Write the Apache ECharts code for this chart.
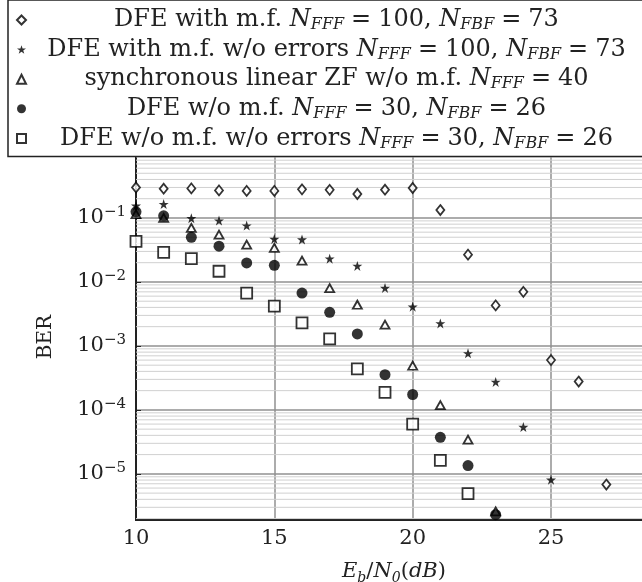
<!DOCTYPE html>
<html>
<head>
<meta charset="utf-8">
<script src="https://cdn.jsdelivr.net/npm/echarts@6/dist/echarts.min.js"></script>
<style>
  html, body { margin: 0; padding: 0; background: #fff; }
  #main { width: 642px; height: 582px; }
</style>
</head>
<body>
<div id="main"></div>
<script>
// Eb/N0 in dB, one entry per simulated point
var snr = [10, 11, 12, 13, 14, 15, 16, 17, 18, 19, 20, 21, 22, 23, 24, 25, 26, 27];

// BER values
var berDfeMf = [0.30, 0.287, 0.29, 0.27, 0.265, 0.265, 0.28, 0.275, 0.237, 0.277, 0.294, 0.133, 0.0267, 0.0043, 0.0070, 6.0e-4, 2.77e-4, 6.8e-6];
var berDfeMfNoErr = [0.155, 0.165, 0.099, 0.091, 0.076, 0.047, 0.046, 0.0231, 0.0178, 0.00805, 0.0041, 0.00225, 7.65e-4, 2.74e-4, 5.4e-5, 8.1e-6];
var berLinZf = [0.115, 0.10, 0.07, 0.0548, 0.0383, 0.034, 0.0215, 0.0080, 0.0044, 0.00215, 4.9e-4, 1.19e-4, 3.43e-5, 2.6e-6];
var berDfe = [0.125, 0.108, 0.0498, 0.0363, 0.0198, 0.0182, 0.0067, 0.00335, 0.00154, 3.55e-4, 1.74e-4, 3.73e-5, 1.35e-5, 2.3e-6];
var berDfeNoErr = [0.0431, 0.029, 0.0231, 0.0147, 0.0067, 0.0042, 0.0023, 0.00129, 4.37e-4, 1.88e-4, 6.0e-5, 1.63e-5, 4.9e-6];

var seriesNames = [
  "DFE with m.f. NFFF = 100, NFBF = 73",
  "DFE with m.f. w/o errors NFFF = 100, NFBF = 73",
  "synchronous linear ZF w/o m.f. NFFF = 40",
  "DFE w/o m.f. NFFF = 30, NFBF = 26",
  "DFE w/o m.f. w/o errors NFFF = 30, NFBF = 26"
];
var legendRich = [
  "{r|DFE with m.f. }{i|N}{s|FFF}{q|=}{r|100, }{i|N}{s|FBF}{q|=}{r|73}",
  "{r|DFE with m.f. w/o errors }{i|N}{s|FFF}{q|=}{r|100, }{i|N}{s|FBF}{q|=}{r|73}",
  "{r|synchronous linear ZF w/o m.f. }{i|N}{s|FFF}{q|=}{r|40}",
  "{r|DFE w/o m.f. }{i|N}{s|FFF}{q|=}{r|30, }{i|N}{s|FBF}{q|=}{r|26}",
  "{r|DFE w/o m.f. w/o errors }{i|N}{s|FFF}{q|=}{r|30, }{i|N}{s|FBF}{q|=}{r|26}"
];

// minor log grid lines 2..9 x 10^k
var minorGrid = [];
for (var k = -6; k <= -1; k++) {
  for (var m = 2; m <= 9; m++) {
    var v = m * Math.pow(10, k);
    if (v >= 1.9e-6 && v < 1) minorGrid.push([10, v]);
  }
}

function pairs(ys) {
  var out = [];
  for (var i = 0; i < ys.length; i++) out.push([snr[i], ys[i]]);
  return out;
}

var serif = "DejaVu Serif";
var ink = "#222";
var starPath = "path://M50,0L61.8,35.1L98.8,35.1L68.9,56.8L80.3,91.9L50,70.2L19.7,91.9L31.1,56.8L1.2,35.1L38.2,35.1Z";
var hollow = { color: "#fff", borderColor: "#000", borderWidth: 1.8 };
var solid = { color: "#000" };

var chart = echarts.init(document.getElementById("main"));
var option = {
  animation: false,
  backgroundColor: "#fff",
  grid: {
    left: 136,
    right: -10,
    top: 154,
    bottom: 62,
    outerBoundsMode: "none",
    containLabel: false,
    show: true,
    borderColor: ink,
    borderWidth: 2
  },
  legend: {
    orient: "vertical",
    left: 8,
    top: 0,
    padding: [8, 80, 5, 8],
    itemWidth: 9,
    itemHeight: 9,
    itemGap: 4.6,
    selectedMode: false,
    backgroundColor: "#fff",
    borderColor: ink,
    borderWidth: 1.5,
    data: seriesNames,
    formatter: function (name) {
      return legendRich[seriesNames.indexOf(name)];
    },
    textStyle: {
      width: 611,
      fontFamily: serif,
      color: ink,
      rich: {
        r: { fontFamily: serif, fontSize: 24, color: ink, align: "center", lineHeight: 26 },
        i: { fontFamily: serif, fontSize: 24, color: ink, fontStyle: "italic", align: "center", lineHeight: 26 },
        s: { fontFamily: serif, fontSize: 16, color: ink, fontStyle: "italic", align: "center", verticalAlign: "bottom", lineHeight: 26 },
        q: { fontFamily: serif, fontSize: 24, color: ink, align: "center", lineHeight: 26, padding: [0, 7] }
      }
    }
  },
  xAxis: {
    type: "value",
    min: 10,
    max: 28.65,
    interval: 5,
    name: "{i|E}{s|b}{r|/}{i|N}{s|0}{r|(}{i|dB}{r|)}",
    nameLocation: "middle",
    nameGap: 39,
    nameTextStyle: {
      rich: {
        r: { fontFamily: serif, fontSize: 21, color: ink, lineHeight: 26 },
        i: { fontFamily: serif, fontSize: 21, color: ink, fontStyle: "italic", lineHeight: 26 },
        s: { fontFamily: serif, fontSize: 14, color: ink, fontStyle: "italic", verticalAlign: "bottom", lineHeight: 26 }
      }
    },
    axisLine: { lineStyle: { color: ink, width: 2 } },
    axisTick: { show: false },
    axisLabel: {
      fontFamily: serif,
      fontSize: 21,
      color: ink,
      margin: 8,
      showMaxLabel: false
    },
    splitLine: { show: true, lineStyle: { color: "#909090", width: 1.5 } }
  },
  yAxis: {
    type: "log",
    logBase: 10,
    min: 1.9e-6,
    max: 1,
    name: "BER",
    nameLocation: "middle",
    nameGap: 80,
    nameTextStyle: { fontFamily: serif, fontSize: 20, color: ink },
    axisLine: { show: true, lineStyle: { color: ink, width: 2 } },
    axisTick: { show: true, inside: true, length: 5, lineStyle: { color: ink } },
    axisLabel: {
      margin: 10,
      formatter: function (val) {
        var e = Math.round(Math.log10(val));
        if (Math.abs(val / Math.pow(10, e) - 1) > 1e-6 || e === 0) return "";
        return "{b|10}{sup|\u2212" + (-e) + "}";
      },
      rich: {
        b: { fontFamily: serif, fontSize: 21, color: ink, lineHeight: 26 },
        sup: { fontFamily: serif, fontSize: 15, color: ink, verticalAlign: "top", lineHeight: 26 }
      }
    },
    splitLine: { show: true, lineStyle: { color: "#909090", width: 1.5 } }
  },
  series: [
    {
      name: "minor grid",
      type: "custom",
      z: 1,
      silent: true,
      clip: false,
      encode: { x: 0, y: 1 },
      data: minorGrid,
      renderItem: function (params, api) {
        var y = api.coord([api.value(0), api.value(1)])[1];
        var cs = params.coordSys;
        return {
          type: "line",
          shape: { x1: cs.x, y1: y, x2: cs.x + cs.width, y2: y },
          style: { stroke: "#d0d0d0", lineWidth: 1 }
        };
      }
    },
    {
      name: seriesNames[0],
      type: "scatter",
      z: 3,
      symbol: "diamond",
      symbolSize: [8, 10],
      itemStyle: hollow,
      data: pairs(berDfeMf)
    },
    {
      name: seriesNames[1],
      type: "scatter",
      z: 3,
      symbol: starPath,
      symbolSize: 10,
      itemStyle: solid,
      data: pairs(berDfeMfNoErr)
    },
    {
      name: seriesNames[2],
      type: "scatter",
      z: 3,
      symbol: "triangle",
      symbolSize: [9, 8],
      itemStyle: hollow,
      data: pairs(berLinZf)
    },
    {
      name: seriesNames[3],
      type: "scatter",
      z: 3,
      symbol: "circle",
      symbolSize: 11,
      itemStyle: solid,
      data: pairs(berDfe)
    },
    {
      name: seriesNames[4],
      type: "scatter",
      z: 3,
      symbol: "rect",
      symbolSize: 11,
      itemStyle: hollow,
      data: pairs(berDfeNoErr)
    }
  ]
};
chart.setOption(option);
</script>
</body>
</html>
